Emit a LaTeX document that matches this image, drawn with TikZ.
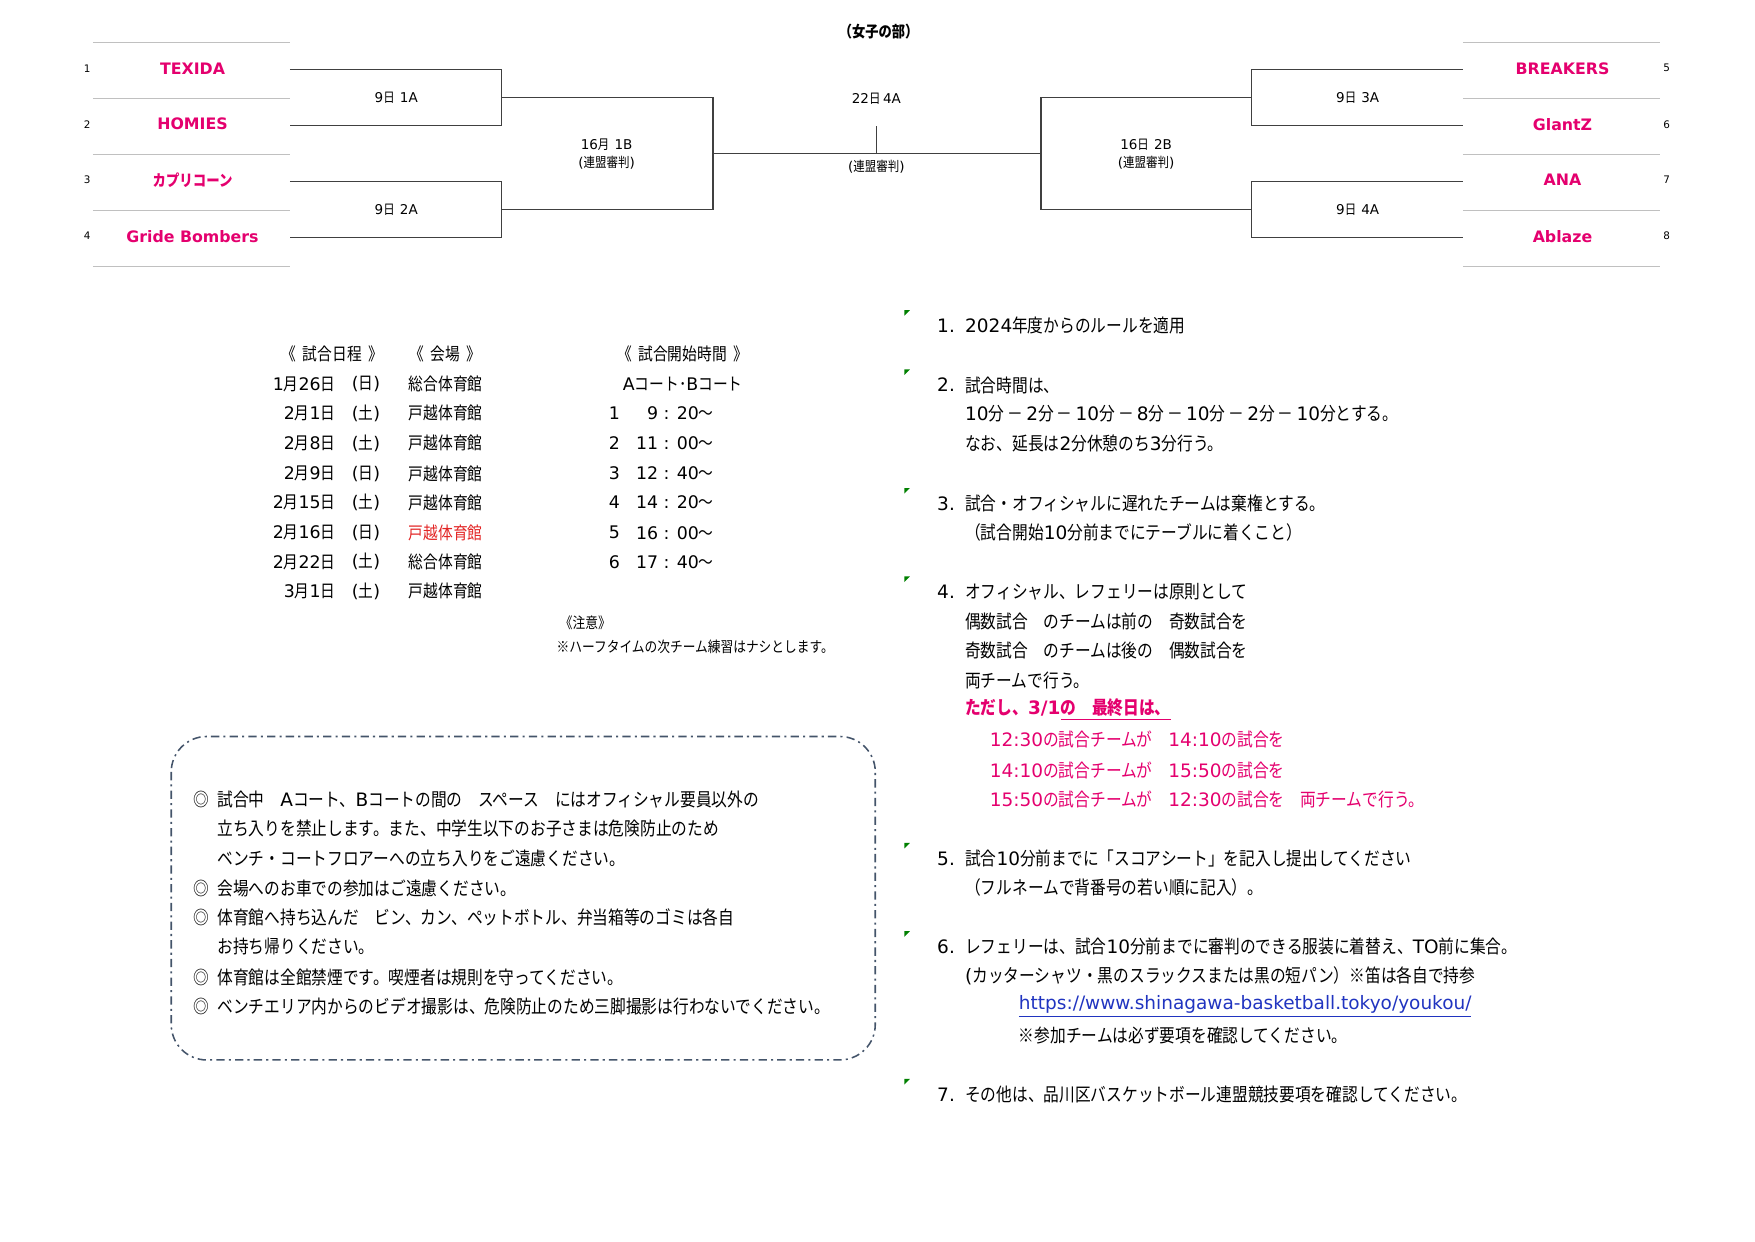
\documentclass[tikz,border=0pt]{standalone}
\usepackage{fontspec}
\setmainfont{DejaVu Sans}
\newfontfamily\jpfont{Noto Sans CJK JP}[FakeStretch=0.85]
% kana, kanji and full-width forms are set in the Japanese face
\XeTeXinterchartokenstate=1
\newXeTeXintercharclass\jpclass
\newcount\jpcode
\def\jprange#1#2{\jpcode=#1\relax
  \loop\XeTeXcharclass\jpcode=\jpclass\relax
    \advance\jpcode by 1\relax
  \ifnum\jpcode<#2\relax\repeat}
\jprange{"3000}{"3100}
\jprange{"4E00}{"A000}
\jprange{"FF00}{"FFF0}
\XeTeXcharclass"203B=\jpclass
\XeTeXcharclass"25CE=\jpclass
\XeTeXinterchartoks 0 \jpclass={\jpfont}
\XeTeXinterchartoks 4095 \jpclass={\jpfont}
\XeTeXinterchartoks \jpclass 0={\rmfamily}
\XeTeXinterchartoks 4095 0={\rmfamily}

\definecolor{teampink}{RGB}{228,0,110}
\definecolor{venuered}{RGB}{226,36,36}
\definecolor{linkblue}{RGB}{32,52,192}
\definecolor{boxblue}{RGB}{68,84,106}
\definecolor{markgreen}{RGB}{0,128,0}
\definecolor{bracketgray}{RGB}{64,64,64}
\definecolor{rulegray}{RGB}{192,192,192}

\begin{document}
\begin{tikzpicture}[x=0.018941cm,y=-0.018941cm,inner sep=0pt,
  team/.style={font=\fontsize{7.6}{9}\selectfont\bfseries,text=teampink},
  seed/.style={font=\fontsize{5}{6}\selectfont},
  game/.style={font=\fontsize{6.5}{8.6}\selectfont,align=center},
  bline/.style={draw=bracketgray,line width=.65pt},
  teamrule/.style={draw=rulegray,line width=.6pt},
  tbl/.style={font=\fontsize{8.35}{10}\selectfont},
  body/.style={font=\fontsize{8.9}{11}\selectfont,anchor=west},
  pinkrow/.style={body,text=teampink},
  notefont/.style={font=\fontsize{7.2}{9}\selectfont}]
\useasboundingbox (0,0) rectangle (1568,1109);
\node[font=\fontsize{7.5}{9}\selectfont\bfseries] (title) at (785,28) {（女子の部）};

% bracket
\foreach \yy in {38,88,138,188,238}{
  \draw[teamrule] (83,\yy) -- (259,\yy);
  \draw[teamrule] (1307,\yy) -- (1483,\yy);
}
\foreach \i/\yy/\nm in {1/61/TEXIDA,2/111/HOMIES,3/161/カプリコーン,4/211/Gride Bombers}{
  \node[seed] (n\i) at (78,\yy) {\i};
  \node[team] (t\i) at (172,\yy) {\nm};
  \coordinate (e\i) at (259,\yy+1);
}
\foreach \i/\yy/\nm in {5/61/BREAKERS,6/111/GlantZ,7/161/ANA,8/211/Ablaze}{
  \node[seed] (n\i) at (1489,\yy) {\i};
  \node[team] (t\i) at (1396,\yy) {\nm};
  \coordinate (e\i) at (1307,\yy+1);
}
\coordinate (q1) at (448,87);
\coordinate (q2) at (448,187);
\coordinate (q3) at (1118,87);
\coordinate (q4) at (1118,187);
\coordinate (j1) at (637,137);
\coordinate (j2) at (930,137);
\coordinate (fin) at (783,137);
\coordinate (tick) at (783,113);
\draw[bline] (e1) -| (q1) |- (e2);
\draw[bline] (e3) -| (q2) |- (e4);
\draw[bline] (q1) -| (j1) |- (q2);
\draw[bline] (j1) -- (j2);
\draw[bline] (q3) -| (j2) |- (q4);
\draw[bline] (e5) -| (q3) |- (e6);
\draw[bline] (e7) -| (q4) |- (e8);
\draw[bline] (fin) -- (tick);
\node[game] (g1) at (354,87) {9日~~1A};
\node[game] (g2) at (354,187) {9日~~2A};
\node[game] (g3) at (1213,87) {9日~~3A};
\node[game] (g4) at (1213,187) {9日~~4A};
\node[game] (g5) at (542,138) {16月~~1B\\(連盟審判)};
\node[game] (g6) at (1024,138) {16日~~2B\\(連盟審判)};
\node[game] (g7) at (783,88) {22日 4A};
\node[game] (g8) at (783,149) {(連盟審判)};

% schedule
\node[tbl] (h1) at (297,316) {《~~試合日程~~》};
\node[tbl] (h2) at (398,316) {《~~会場~~》};
\node[tbl] (h3) at (610,316) {《~~試合開始時間~~》};
\node[tbl] (h4) at (610,343) {Aコート･Bコート};
\foreach \k/\yy/\dt/\dy/\vn/\vc in {1/343/1月26日/日/総合体育館/black,2/369/2月1日/土/戸越体育館/black,
  3/396/2月8日/土/戸越体育館/black,4/423/2月9日/日/戸越体育館/black,5/449/2月15日/土/戸越体育館/black,
  6/476/2月16日/日/戸越体育館/venuered,7/502/2月22日/土/総合体育館/black,8/528/3月1日/土/戸越体育館/black}{
  \node[tbl,anchor=east] (date\k) at (300,\yy) {\dt};
  \node[tbl] (day\k) at (327,\yy) {(\dy)};
  \node[tbl,anchor=west,text=\vc] (venue\k) at (365,\yy) {\vn};
}
\foreach \k/\yy/\tm in {1/369/9 : 20～,2/396/11 : 00～,3/423/12 : 40～,4/449/14 : 20～,5/476/16 : 00～,6/502/17 : 40～}{
  \node[tbl] (slot\k) at (549,\yy) {\k};
  \node[tbl,anchor=east] (time\k) at (638,\yy) {\tm};
}
\node[notefont] (note) at (523,556) {《注意》};
\node[notefont,anchor=west] (notetxt) at (497,578) {※ハーフタイムの次チーム練習はナシとします。};

% venue rules
\draw[boxblue,line width=.75pt,rounded corners=.6cm,dash pattern=on 4pt off 2pt on 1pt off 2pt]
  (153,658) rectangle (782,947);
\foreach \k/\yy in {1/714,4/794,5/820,7/873,8/899}
  \node[body,anchor=center] (b\k) at (180,\yy) {◎};
\foreach \k/\yy/\txt in {1/714/試合中　Aコート、Bコートの間の　スペース　にはオフィシャル要員以外の,
  2/740/立ち入りを禁止します。また、中学生以下のお子さまは危険防止のため,
  3/767/ベンチ・コートフロアーへの立ち入りをご遠慮ください。,
  4/794/会場へのお車での参加はご遠慮ください。,
  5/820/体育館へ持ち込んだ　ビン、カン、ペットボトル、弁当箱等のゴミは各自,
  6/846/お持ち帰りください。,
  7/873/体育館は全館禁煙です。喫煙者は規則を守ってください。,
  8/899/ベンチエリア内からのビデオ撮影は、危険防止のため三脚撮影は行わないでください。}
  \node[body] (m\k) at (194,\yy) {\txt};

% numbered notes
\foreach \k/\yy/\txt in {1/291/2024年度からのルールを適用,2/344/試合時間は、,
  3/450/試合・オフィシャルに遅れたチームは棄権とする。,4/529/オフィシャル、レフェリーは原則として,
  5/767/試合10分前までに「スコアシート」を記入し提出してください,
  6/846/レフェリーは、試合10分前までに審判のできる服装に着替え、TO前に集合。,
  7/978/その他は、品川区バスケットボール連盟競技要項を確認してください。}{
  \fill[markgreen] (808,\yy-14) -- ++(5,0) -- ++(-5,5) -- cycle;
  \node[body] (r\k) at (837,\yy) {\k.};
  \node[body] (rt\k) at (862,\yy) {\txt};
}
\node[body] (r2a) at (862,370) {10分\,－\,2分\,－\,10分\,－\,8分\,－\,10分\,－\,2分\,－\,10分とする。};
\node[body] (r2b) at (862,396) {なお、延長は2分休憩のち3分行う。};
\node[body] (r3a) at (862,476) {（試合開始10分前までにテーブルに着くこと）};
\node[body] (r4a) at (862,555) {偶数試合　のチームは前の　奇数試合を};
\node[body] (r4b) at (862,581) {奇数試合　のチームは後の　偶数試合を};
\node[body] (r4c) at (862,608) {両チームで行う。};
\node[pinkrow,font=\fontsize{8.9}{11}\selectfont\bfseries] (r4d) at (862,634) {ただし、3/1\underline{の　最終日は、}};
\node[pinkrow] (r4e) at (884,661) {12:30の試合チームが　14:10の試合を};
\node[pinkrow] (r4f) at (884,688) {14:10の試合チームが　15:50の試合を};
\node[pinkrow] (r4g) at (884,714) {15:50の試合チームが　12:30の試合を　両チームで行う。};
\node[body] (r5a) at (862,793) {（フルネームで背番号の若い順に記入）。};
\node[body] (r6a) at (862,872) {(カッターシャツ・黒のスラックスまたは黒の短パン）※笛は各自で持参};
\node[body,text=linkblue] (r6b) at (910,899) {\underline{https://www.shinagawa-basketball.tokyo/youkou/}};
\node[body] (r6c) at (910,925) {※参加チームは必ず要項を確認してください。};
\end{tikzpicture}
\end{document}
